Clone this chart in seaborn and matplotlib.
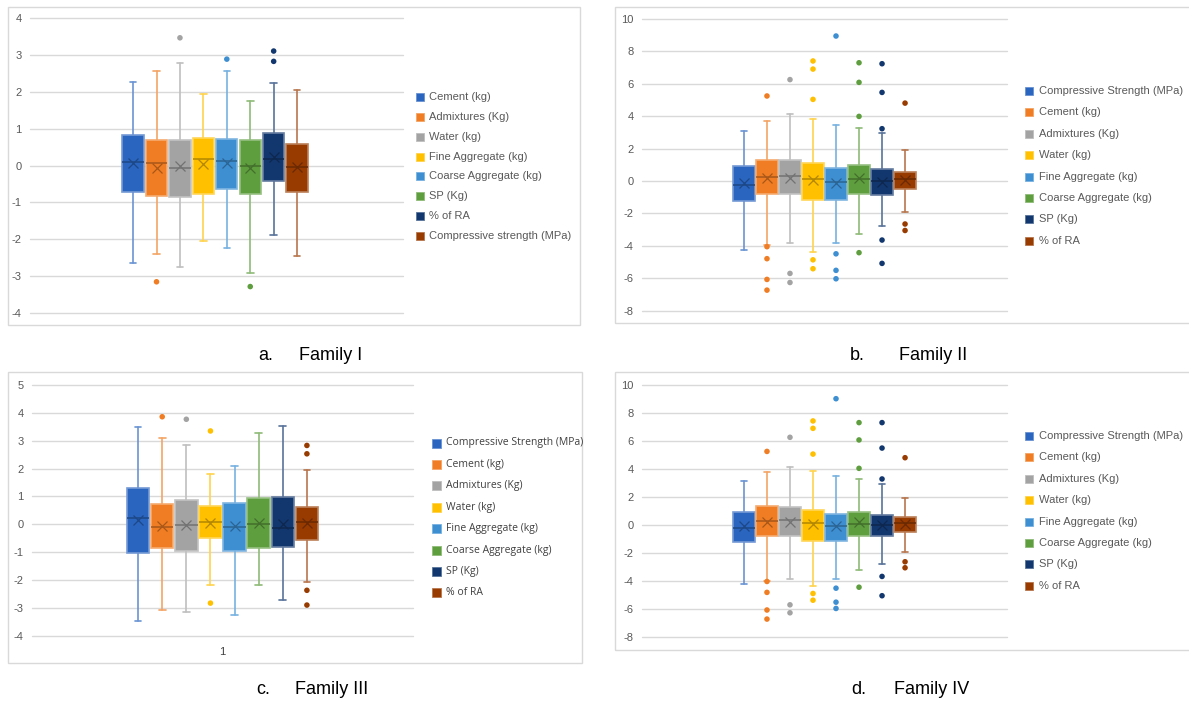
import matplotlib
matplotlib.use("Agg")
import matplotlib.pyplot as plt
from matplotlib.patches import Rectangle
from matplotlib.colors import to_rgb
import numpy as np
import pandas as pd
import seaborn as sns

# ---------------------------------------------------------------- data
COLORS = ["#2A65C0", "#F07D23", "#A3A3A3", "#FFC000",
          "#3D8FD2", "#5E9E3E", "#12376F", "#983B00"]

LABELS_I = ["Cement (kg)", "Admixtures (Kg)", "Water (kg)", "Fine Aggregate (kg)",
            "Coarse Aggregate (kg)", "SP (Kg)", "% of RA", "Compressive strength (MPa)"]
LABELS_OTHER = ["Compressive Strength (MPa)", "Cement (kg)", "Admixtures (Kg)", "Water (kg)",
                "Fine Aggregate (kg)", "Coarse Aggregate (kg)", "SP (Kg)", "% of RA"]

# Family I
F1_LOW = [-2.64, -2.40, -2.76, -2.05, -2.25, -2.91, -1.90, -2.47]
F1_Q1 = [-0.71, -0.84, -0.86, -0.78, -0.64, -0.77, -0.42, -0.73]
F1_MED = [0.09, 0.06, -0.08, 0.19, 0.12, -0.01, 0.19, -0.05]
F1_Q3 = [0.84, 0.70, 0.70, 0.76, 0.73, 0.68, 0.87, 0.58]
F1_HIGH = [2.28, 2.58, 2.79, 1.95, 2.58, 1.75, 2.24, 2.06]
F1_MEAN = [0.06, -0.08, -0.02, 0.04, 0.08, -0.08, 0.23, -0.05]
F1_OUT = [[], [-3.16], [3.47], [], [2.89], [-3.29], [3.11, 2.83], []]

# Family II
F2_LOW = [-4.24, -3.95, -3.83, -4.36, -3.83, -3.29, -2.78, -1.93]
F2_Q1 = [-1.23, -0.80, -0.80, -1.15, -1.19, -0.80, -0.86, -0.51]
F2_MED = [-0.25, 0.27, 0.31, 0.10, -0.08, 0.12, 0.00, 0.12]
F2_Q3 = [0.95, 1.30, 1.30, 1.13, 0.80, 0.97, 0.74, 0.53]
F2_HIGH = [3.11, 3.72, 4.16, 3.85, 3.44, 3.29, 2.94, 1.93]
F2_MEAN = [-0.12, 0.16, 0.21, 0.04, -0.12, 0.21, -0.06, 0.04]
F2_OUT = [[], [5.25, -4.05, -4.79, -6.07, -6.73], [6.26, -5.70, -6.26],
          [7.41, 6.91, 5.04, -4.86, -5.41], [8.95, -4.49, -5.51, -6.03],
          [7.30, 6.09, 3.99, -4.42], [7.24, 5.47, 3.23, -3.64, -5.08],
          [4.81, -2.65, -3.05]]

# Family III
F3_LOW = [-3.46, -3.08, -3.15, -2.19, -3.25, -2.18, -2.72, -2.09]
F3_Q1 = [-1.02, -0.86, -0.97, -0.51, -0.97, -0.84, -0.82, -0.55]
F3_MED = [0.21, -0.11, -0.03, 0.07, -0.10, 0.01, -0.15, 0.09]
F3_Q3 = [1.29, 0.74, 0.86, 0.64, 0.78, 0.93, 0.97, 0.62]
F3_HIGH = [3.48, 3.09, 2.86, 1.80, 2.08, 3.29, 3.54, 1.96]
F3_MEAN = [0.17, -0.06, -0.04, 0.03, -0.06, 0.03, 0.02, 0.03]
F3_OUT = [[], [3.86], [3.77], [3.35, -2.83], [], [], [], [2.83, 2.53, -2.37, -2.90]]

# Family IV
F4_LOW = [-4.26, -4.00, -3.88, -4.34, -3.88, -3.24, -2.78, -1.97]
F4_Q1 = [-1.23, -0.80, -0.80, -1.14, -1.14, -0.80, -0.80, -0.52]
F4_MED = [-0.23, 0.30, 0.34, 0.10, -0.09, 0.08, 0.00, 0.10]
F4_Q3 = [0.92, 1.34, 1.27, 1.08, 0.77, 0.94, 0.73, 0.56]
F4_HIGH = [3.16, 3.78, 4.16, 3.85, 3.47, 3.28, 2.94, 1.94]
F4_MEAN = [-0.09, 0.18, 0.22, 0.03, -0.09, 0.20, -0.04, 0.03]
F4_OUT = [[], [5.25, -4.05, -4.83, -6.09, -6.74], [6.26, -5.72, -6.29],
          [7.43, 6.90, 5.06, -4.91, -5.39], [9.02, -4.53, -5.53, -5.98],
          [7.31, 6.07, 4.04, -4.46], [7.31, 5.49, 3.28, -3.69, -5.07],
          [4.80, -2.64, -3.07]]

# ---------------------------------------------------------------- style
sns.set_theme(style="white")
plt.rcParams["font.family"] = ["Liberation Sans", "DejaVu Sans"]

W, H = 1189, 714
fig = plt.figure(figsize=(W / 100, H / 100), dpi=100)
fig.patch.set_facecolor("white")


def fx(x):
    return x / W


def fy(y):
    return 1 - y / H


def mix(c, other, t):
    a = np.array(to_rgb(c))
    b = np.array(to_rgb(other))
    return tuple(a * (1 - t) + b * t)


def frame(x0, y0, x1, y1):
    fig.patches.append(Rectangle((fx(x0), fy(y1)), fx(x1) - fx(x0), fy(y0) - fy(y1),
                                 transform=fig.transFigure, fill=False,
                                 edgecolor="#D9D9D9", linewidth=1.0, zorder=0))


def panel(box, xlim, ylim, yticks, low, q1, med, q3, high, mean, out, width):
    l, r, t, b = box
    ax = fig.add_axes([fx(l), fy(b), fx(r) - fx(l), fy(t) - fy(b)])
    ax.set_facecolor("none")
    for i, c in enumerate(COLORS):
        st = [dict(whislo=low[i], q1=q1[i], med=med[i], q3=q3[i],
                   whishi=high[i], mean=mean[i], fliers=[])]
        wc = mix(c, "white", 0.3)
        ax.bxp(st, positions=[i], widths=width, patch_artist=True,
               showmeans=True, showfliers=False, manage_ticks=False,
               capwidths=0.28,
               boxprops=dict(facecolor=c, edgecolor=mix(c, "white", 0.35), linewidth=1.2),
               whiskerprops=dict(color=wc, linewidth=1.2),
               capprops=dict(color=wc, linewidth=1.2),
               medianprops=dict(color=mix(c, "black", 0.3), linewidth=1.1),
               meanprops=dict(marker="x", markeredgecolor=mix(c, "black", 0.3),
                              markersize=7, markeredgewidth=0.9, linestyle="none"))
    rows = [(i, v, str(i)) for i, vals in enumerate(out) for v in vals]
    df = pd.DataFrame(rows, columns=["pos", "value", "series"])
    sns.scatterplot(data=df, x="pos", y="value", hue="series",
                    palette={str(i): c for i, c in enumerate(COLORS)},
                    legend=False, s=16, linewidth=0, ax=ax, zorder=5)
    ax.set_xlabel("")
    ax.set_ylabel("")
    ax.set_xlim(*xlim)
    ax.set_ylim(*ylim)
    ax.set_yticks(yticks)
    ax.set_yticklabels([str(v) for v in yticks])
    ax.set_xticks([])
    ax.grid(axis="y", color="#D9D9D9", linewidth=1.0)
    ax.grid(axis="x", visible=False)
    ax.set_axisbelow(True)
    for s in ax.spines.values():
        s.set_visible(False)
    ax.tick_params(axis="y", length=0, pad=6, labelsize=8, labelcolor="#595959")
    for gl in ax.get_ygridlines():
        gl.set_clip_on(False)
    return ax


def legend(labels, x_box, x_text, y0, step, size, family, fontsize, color):
    for i, (lab, c) in enumerate(zip(labels, COLORS)):
        y = y0 + i * step
        fig.patches.append(Rectangle((fx(x_box), fy(y + size / 2)), size / W, size / H,
                                     transform=fig.transFigure, facecolor=c,
                                     edgecolor=mix(c, "white", 0.3), linewidth=0.6))
        fig.text(fx(x_text), fy(y), lab, ha="left", va="center",
                 fontsize=fontsize, color=color, family=family)


# chart frames
frame(8, 7, 580, 325)
frame(615, 7, 1200, 323)
frame(8, 372, 582, 663)
frame(615, 372, 1200, 650)

# a. Family I
panel((30, 403, 18.3, 312.7), (-4.40, 11.52), (-4, 4), list(range(-4, 5)),
      F1_LOW, F1_Q1, F1_MED, F1_Q3, F1_HIGH, F1_MEAN, F1_OUT, 0.91)
legend(LABELS_I, 416, 429, 97, 19.85, 8, ["Liberation Sans"], 8, "#595959")

# b. Family II
panel((642, 1007, 19, 310.7), (-4.43, 11.43), (-8, 10), list(range(-8, 11, 2)),
      F2_LOW, F2_Q1, F2_MED, F2_Q3, F2_HIGH, F2_MEAN, F2_OUT, 0.94)
legend(LABELS_OTHER, 1025, 1039, 91, 21.4, 8, ["Liberation Sans"], 8, "#595959")

# c. Family III
ax_c = panel((32, 413, 385, 635.7), (-4.40, 11.40), (-4, 5), list(range(-4, 6)),
             F3_LOW, F3_Q1, F3_MED, F3_Q3, F3_HIGH, F3_MEAN, F3_OUT, 0.93)
ax_c.set_xticks([3.5])
ax_c.set_xticklabels(["1"])
ax_c.tick_params(axis="x", length=0, pad=8, labelsize=8, labelcolor="#404040")
legend(LABELS_OTHER, 432, 446, 443, 21.4, 9, ["Open Sans"], 7.5, "#404040")

# d. Family IV
panel((642, 1007, 385, 636.7), (-4.43, 11.43), (-8, 10), list(range(-8, 11, 2)),
      F4_LOW, F4_Q1, F4_MED, F4_Q3, F4_HIGH, F4_MEAN, F4_OUT, 0.94)
legend(LABELS_OTHER, 1025, 1039, 436, 21.4, 8, ["Liberation Sans"], 8, "#595959")

# captions
for lx, fxpos, y, letter, name in [(258, 299, 355, "a.", "Family I"),
                                   (850, 899, 355, "b.", "Family II"),
                                   (256, 295, 690, "c.", "Family III"),
                                   (851, 894, 690, "d.", "Family IV")]:
    fig.text(fx(lx), fy(y), letter, ha="left", va="center", fontsize=13, color="black")
    fig.text(fx(fxpos), fy(y), name, ha="left", va="center", fontsize=13, color="black")

fig.savefig("out.png", dpi=100, facecolor="white")
